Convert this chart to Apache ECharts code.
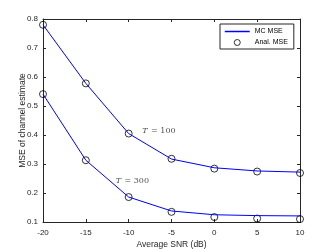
<!DOCTYPE html>
<html><head><meta charset="utf-8">
<script src="https://cdn.jsdelivr.net/npm/echarts@6/dist/echarts.min.js"></script>
<style>html,body{margin:0;padding:0;background:#fff}#c{width:332px;height:249px}</style>
</head><body><div id="c"></div>
<script>
var snr = [-20, -15, -10, -5, 0, 5, 10];
var mcT100 = [0.780, 0.578, 0.405, 0.317, 0.287, 0.276, 0.272];
var analT100 = [0.780, 0.578, 0.405, 0.318, 0.284, 0.274, 0.269];
var mcT300 = [0.541, 0.313, 0.186, 0.138, 0.125, 0.122, 0.121];
var analT300 = [0.541, 0.313, 0.186, 0.135, 0.117, 0.112, 0.110];
var xTicks = [-20, -15, -10, -5, 0, 5, 10];
var yTicks = [0.1, 0.2, 0.3, 0.4, 0.5, 0.6, 0.7, 0.8];
var annotations = [{x: -8.4, y: 0.413, t: '100'}, {x: -11.5, y: 0.243, t: '300'}];

function pairs(xs, ys){ return xs.map(function(x,i){return [x, ys[i]];}); }
var axisColor = '#262626';
var font = 'Liberation Sans';
function baseX(show){ return {
  type:'value', min:-20, max:10, interval:5, position: show?'bottom':'top',
  axisLine:{show:true, onZero:false, lineStyle:{color:axisColor, width:1}},
  axisTick:{show:true, inside:true, length:3, lineStyle:{color:axisColor}},
  axisLabel:{show:show, color:axisColor, fontSize:8, fontFamily:font, margin:7},
  splitLine:{show:false}
};}
function baseY(show){ return {
  type:'value', min:0.1, max:0.8, interval:0.1, position: show?'left':'right',
  axisLine:{show:true, onZero:false, lineStyle:{color:axisColor, width:1}},
  axisTick:{show:true, inside:true, length:3, lineStyle:{color:axisColor}},
  axisLabel:{show:show, color:axisColor, fontSize:8, fontFamily:font, margin:5,
    formatter:function(v){return v.toFixed(1);}},
  splitLine:{show:false}
};}
var xb = baseX(true); xb.name='Average SNR (dB)'; xb.nameLocation='middle'; xb.nameGap=18; xb.nameMoveOverlap=false;
xb.nameTextStyle={color:axisColor, fontSize:8.5, fontFamily:font};
var yl = baseY(true); yl.name='MSE of channel estimate'; yl.nameLocation='middle'; yl.nameGap=16; yl.nameMoveOverlap=false;
yl.nameTextStyle={color:axisColor, fontSize:8.5, fontFamily:font};

var lineStyle = {color:'#0000ff', width:1};
var circ = {type:'scatter', symbol:'circle', symbolSize:7, itemStyle:{color:'transparent', borderColor:'#000', borderWidth:1}};

var chart = echarts.init(document.getElementById('c'), null, {renderer:'canvas'});
chart.setOption({
  animation:false,
  backgroundColor:'#fff',
  color:['#0000ff', '#0000ff', '#000', '#000'],
  grid:{left:43, right:32, top:19, bottom:27, containLabel:false, outerBoundsMode:'none'},
  xAxis:[xb, baseX(false)],
  yAxis:[yl, baseY(false)],
  legend:{
    orient:'vertical', left:220, top:24, width:74,
    backgroundColor:'#fff', borderColor:'#262626', borderWidth:1, padding:[4,6,3,4],
    itemGap:4, itemWidth:25, itemHeight:6,
    lineStyle:{width:1.5},
    textStyle:{fontSize:7, fontFamily:font, color:'#000'},
    data:[{name:'MC MSE', itemStyle:{opacity:0}},
          {name:'Anal. MSE', icon:'circle', itemStyle:{color:'transparent', borderColor:'#000', borderWidth:1}}]
  },
  series:[
    {name:'MC MSE', type:'line', data:pairs(snr, mcT100), symbol:'none', lineStyle:lineStyle, itemStyle:{color:'#0000ff'}},
    {name:'MC MSE', type:'line', data:pairs(snr, mcT300), symbol:'none', lineStyle:lineStyle, itemStyle:{color:'#0000ff'}},
    Object.assign({name:'Anal. MSE', data:pairs(snr, analT100)}, circ),
    Object.assign({name:'Anal. MSE', data:pairs(snr, analT300)}, circ),
    {type:'scatter', symbolSize:0, silent:true, data:annotations.map(function(a){return {value:[a.x,a.y], t:a.t};}),
      label:{show:true, position:'right', distance:0,
        formatter:function(p){return '{i|T} {n|= '+p.data.t+'}';},
        rich:{i:{fontFamily:'DejaVu Serif', fontStyle:'italic', fontSize:8, color:'#222'},
              n:{fontFamily:'DejaVu Serif', fontSize:8, color:'#222'}}}}
  ]
});
</script></body></html>
